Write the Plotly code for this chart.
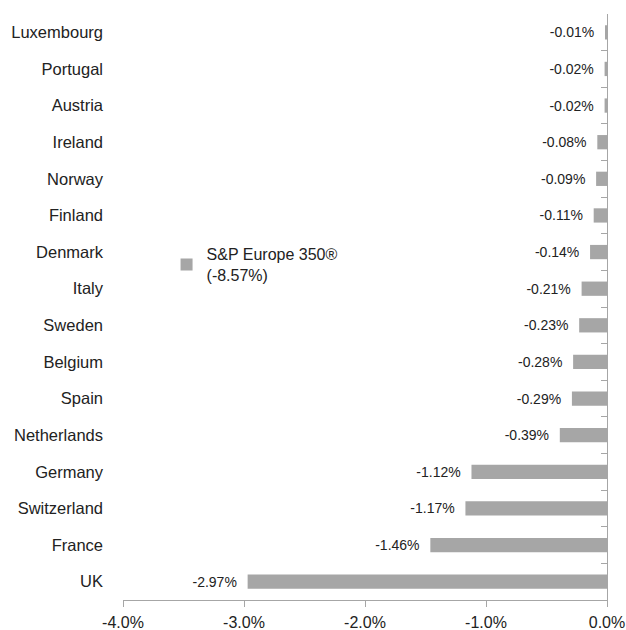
import plotly.graph_objects as go

countries = ["Luxembourg", "Portugal", "Austria", "Ireland", "Norway", "Finland",
             "Denmark", "Italy", "Sweden", "Belgium", "Spain", "Netherlands",
             "Germany", "Switzerland", "France", "UK"]
values = [-0.01, -0.02, -0.02, -0.08, -0.09, -0.11, -0.14, -0.21, -0.23,
          -0.28, -0.29, -0.39, -1.12, -1.17, -1.46, -2.97]
value_labels = ["-0.01%", "-0.02%", "-0.02%", "-0.08%", "-0.09%", "-0.11%",
                "-0.14%", "-0.21%", "-0.23%", "-0.28%", "-0.29%", "-0.39%",
                "-1.12%", "-1.17%", "-1.46%", "-2.97%"]
series_name = "S&P Europe 350®<br>(-8.57%)"
x_tickvals = [-4, -3, -2, -1, 0]
x_ticktext = ["-4.0%", "-3.0%", "-2.0%", "-1.0%", "0.0%"]

FONT = "Liberation Sans, Arial, sans-serif"
AXIS = "#A6A6A6"

fig = go.Figure()
fig.add_trace(go.Bar(
    x=values, y=countries, orientation="h", name=series_name,
    marker=dict(color="#A6A6A6", line=dict(width=0)),
    width=0.39,
    text=[t + "\u00a0\u00a0" for t in value_labels], textposition="outside",
    cliponaxis=False, constraintext="none",
    textfont=dict(family=FONT, size=14, color="#222222"),
    showlegend=True,
))

n = len(countries)
fig.add_trace(go.Scatter(x=[None], y=[None], yaxis="y2", showlegend=False, hoverinfo="skip"))

fig.update_layout(
    width=626, height=630,
    margin=dict(l=123, r=19, t=14, b=30, autoexpand=False),
    plot_bgcolor="white", paper_bgcolor="white",
    font=dict(family=FONT, size=16, color="#222222"),
    showlegend=True,
    legend=dict(x=0.09, y=0.619, xanchor="left", yanchor="top",
                bgcolor="rgba(0,0,0,0)", font=dict(size=16, color="#222222"),
                itemwidth=30),
    xaxis=dict(range=[-4, 0], tickvals=x_tickvals, ticktext=x_ticktext,
               showgrid=False, zeroline=False, showline=True, linecolor=AXIS,
               linewidth=1, ticks="outside", ticklen=6, tickcolor=AXIS,
               tickfont=dict(size=16), ticklabelstandoff=2, automargin=False),
    yaxis=dict(categoryorder="array", categoryarray=countries[::-1],
               range=[-0.5, n - 0.5], showgrid=False, zeroline=False,
               showline=False, ticks="", ticklabelstandoff=19,
               tickfont=dict(size=16.5), automargin=False),
    yaxis2=dict(overlaying="y", side="right", range=[-0.5, n - 0.5],
                tickvals=[i - 0.5 for i in range(n + 1)], showticklabels=False,
                showgrid=False, zeroline=False, showline=True, linecolor=AXIS,
                linewidth=1, ticks="inside", ticklen=6, tickcolor=AXIS,
                automargin=False),
)

fig.write_html("out.html", config={"displayModeBar": False},
               post_script="document.body.style.margin='0';document.body.style.overflow='hidden';")
